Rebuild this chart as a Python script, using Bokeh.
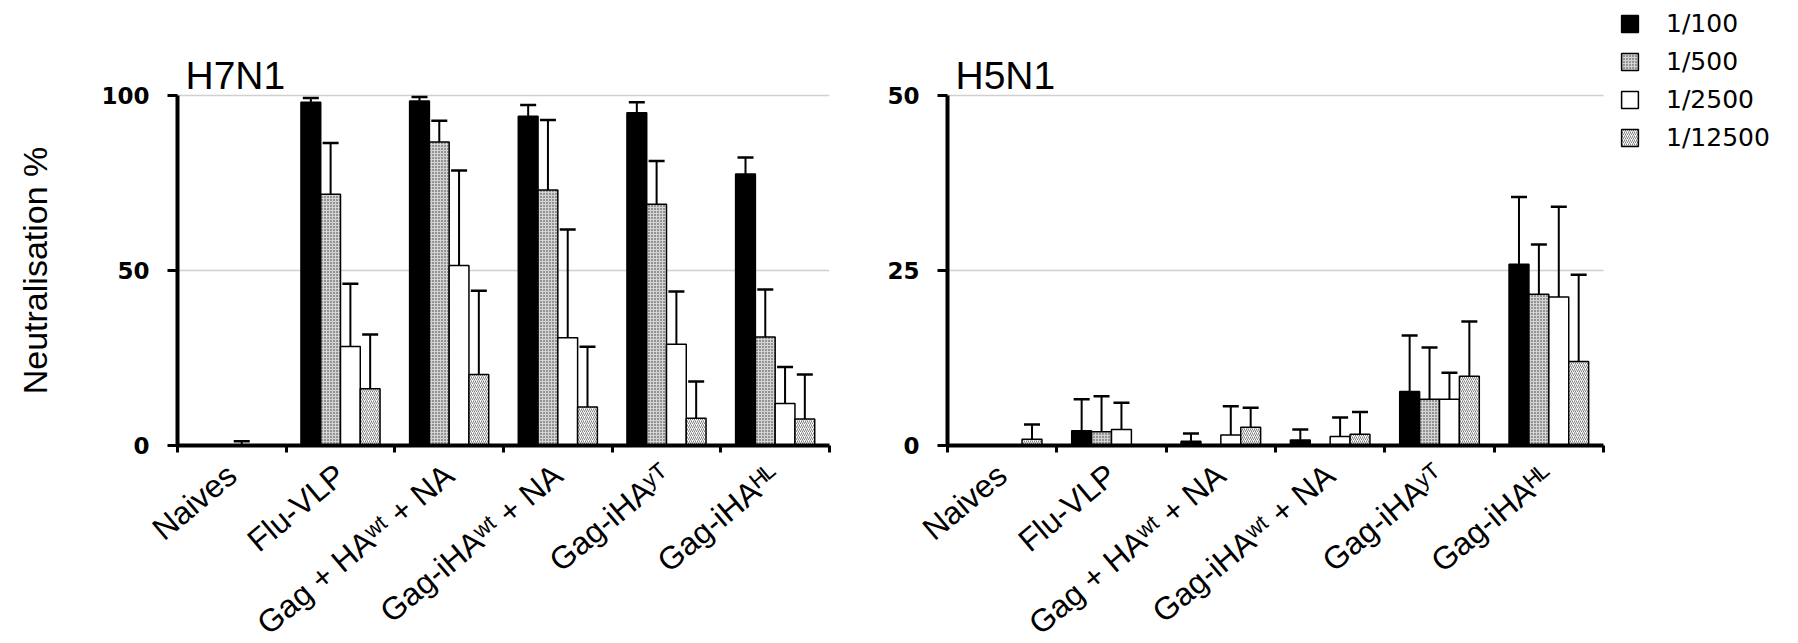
import math
from bokeh.plotting import figure
from bokeh.models import (ColumnDataSource, Range1d, FixedTicker, Whisker, TeeHead,
                          Legend, LegendItem, Label)
from bokeh.layouts import row
from bokeh.transform import dodge
from bokeh.embed import file_html
from bokeh.resources import INLINE

# ---------------- data ----------------
categories = ["Naives", "Flu-VLP", "Gag + HAʷᵗ + NA", "Gag-iHAʷᵗ + NA", "Gag-iHAʸᵀ", "Gag-iHAᴴᴸ"]
dilutions = ["1/100", "1/500", "1/2500", "1/12500"]

# H7N1 neutralisation % (mean) and error (upper bar length)
h7_1_100 = [0, 98.1, 98.4, 94.1, 95.1, 77.6]
h7_1_500 = [0, 71.8, 86.7, 73.0, 68.9, 31.0]
h7_1_2500 = [0, 28.3, 51.4, 30.8, 28.9, 12.0]
h7_1_12500 = [0, 16.2, 20.3, 11.0, 7.8, 7.6]
h7_err_100 = [0, 1.2, 1.2, 3.2, 3.0, 4.7]
h7_err_500 = [0, 14.6, 6.1, 20.0, 12.4, 13.6]
h7_err_2500 = [1.2, 17.9, 27.2, 30.9, 15.1, 10.4]
h7_err_12500 = [0, 15.5, 23.9, 17.2, 10.5, 12.7]

# H5N1
h5_1_100 = [0, 2.1, 0.6, 0.8, 7.7, 25.9]
h5_1_500 = [0, 1.95, 0, 0, 6.6, 21.6]
h5_1_2500 = [0, 2.3, 1.5, 1.3, 6.6, 21.2]
h5_1_12500 = [0.9, 0, 2.6, 1.6, 9.9, 12.0]
h5_err_100 = [0, 4.5, 1.1, 1.5, 8.0, 9.6]
h5_err_500 = [0, 5.1, 0, 0, 7.4, 7.1]
h5_err_2500 = [0, 3.8, 4.1, 2.7, 3.8, 12.9]
h5_err_12500 = [2.1, 0, 2.8, 3.2, 7.8, 12.4]

h7_ticks = [0, 50, 100]
h5_ticks = [0, 25, 50]

# ---------------- styling ----------------
offsets = [-0.273, -0.091, 0.091, 0.273]
BAR_W = 0.182
styles = [
    dict(fill_color="black"),
    dict(fill_color="#d4d4d4", hatch_pattern=".", hatch_scale=3, hatch_weight=1.5,
         hatch_color="#303030"),
    dict(fill_color="white"),
    dict(fill_color="white", hatch_pattern="/", hatch_scale=4, hatch_weight=0.8,
         hatch_color="#606060"),
]
LABEL_FONT = "Liberation Sans"
TICK_FONT = "DejaVu Sans"
AXIS_PX = 350          # pixel height of the 0..max value axis
HEAD_PX = 95           # frame room above the axis top (titles, legend)
FRAME_H = AXIS_PX + HEAD_PX
BOTTOM = 190
YLAB_W = 68

xc = [i + 0.5 for i in range(len(categories))]
ncat = len(categories)


def base_fig(frame_w, x_end, y_end, bl, br):
    p = figure(x_range=Range1d(0, x_end), y_range=Range1d(0, y_end),
               frame_width=frame_w, frame_height=FRAME_H,
               min_border_left=bl, min_border_right=br, min_border_top=0,
               min_border_bottom=BOTTOM, output_backend="svg", toolbar_location=None)
    p.outline_line_color = None
    p.background_fill_color = "white"
    p.border_fill_color = "white"
    return p


def style_axes(p, ticks):
    ymax = ticks[-1]
    p.xgrid.visible = False
    g = p.ygrid[0]
    g.ticker = FixedTicker(ticks=ticks)
    g.grid_line_color = "#d0d0d0"
    g.grid_line_width = 1.5
    g.cross_bounds = (0, ncat)

    ya = p.yaxis[0]
    ya.ticker = FixedTicker(ticks=ticks)
    ya.bounds = (0, ymax)
    ya.axis_line_width = 4
    ya.axis_line_color = "black"
    ya.major_tick_out = 10
    ya.major_tick_in = 0
    ya.major_tick_line_width = 3
    ya.minor_tick_out = 0
    ya.minor_tick_in = 0
    ya.major_label_standoff = 18
    ya.major_label_text_font = TICK_FONT
    ya.major_label_text_font_style = "bold"
    ya.major_label_text_font_size = "23px"
    ya.major_label_text_color = "black"

    xa = p.xaxis[0]
    xa.ticker = FixedTicker(ticks=xc, minor_ticks=list(range(ncat + 1)))
    xa.bounds = (0, ncat)
    xa.major_label_overrides = {x: c for x, c in zip(xc, categories)}
    xa.axis_line_width = 4
    xa.axis_line_color = "black"
    xa.major_tick_out = 0
    xa.major_tick_in = 0
    xa.minor_tick_out = 7
    xa.minor_tick_in = 0
    xa.minor_tick_line_width = 3
    xa.major_label_orientation = math.radians(40)
    xa.major_label_standoff = 18
    xa.major_label_text_font = LABEL_FONT
    xa.major_label_text_font_size = "32px"
    xa.major_label_text_color = "black"


def draw_bars(p, means, errs):
    rs = []
    for k in range(len(dilutions)):
        src = ColumnDataSource(dict(xc=xc, val=means[k]))
        r = p.vbar(x=dodge("xc", offsets[k], range=p.x_range), top="val", width=BAR_W,
                   source=src, line_color="black", line_width=1.5, **styles[k])
        rs.append(r)
        keep = [i for i in range(ncat) if errs[k][i] > 0]
        wsrc = ColumnDataSource(dict(
            xc=[xc[i] for i in keep],
            val=[means[k][i] for i in keep],
            up=[means[k][i] + errs[k][i] for i in keep]))
        p.add_layout(Whisker(source=wsrc, base=dodge("xc", offsets[k], range=p.x_range),
                             lower="val", upper="up", line_color="black", line_width=2,
                             upper_head=TeeHead(size=16, line_width=2.5, line_color="black"),
                             lower_head=None, level="annotation"))
    return rs


def panel_title(p, text, ymax):
    p.add_layout(Label(x=0, y=ymax, x_offset=8, y_offset=-1, text=text,
                       text_font=LABEL_FONT, text_font_size="39px", text_color="black",
                       text_baseline="bottom"))


h7_yend = h7_ticks[-1] * FRAME_H / AXIS_PX
h5_yend = h5_ticks[-1] * FRAME_H / AXIS_PX

# ---- y axis title strip ----
p0 = figure(x_range=Range1d(0, 1), y_range=Range1d(0, h7_yend),
            frame_width=YLAB_W, frame_height=FRAME_H,
            min_border_left=0, min_border_right=0, min_border_top=0, min_border_bottom=BOTTOM,
            x_axis_type=None, y_axis_type=None, output_backend="svg", toolbar_location=None)
p0.outline_line_color = None
p0.border_fill_color = "white"
p0.add_layout(Label(x=0.5, y=h7_ticks[-1] / 2, angle=math.pi / 2, text="Neutralisation %",
                    text_align="center", text_baseline="middle", text_font=LABEL_FONT,
                    text_font_size="34px", text_color="black"))

# ---- left panel: H7N1 ----
p1 = base_fig(652, ncat, h7_yend, 177 - YLAB_W, 20)
style_axes(p1, h7_ticks)
draw_bars(p1, [h7_1_100, h7_1_500, h7_1_2500, h7_1_12500],
          [h7_err_100, h7_err_500, h7_err_2500, h7_err_12500])
panel_title(p1, "H7N1", h7_ticks[-1])

# ---- right panel: H5N1 (frame widened to the right to hold the legend) ----
AXIS_W2 = 656
FRAME_W2 = 843
p2 = base_fig(FRAME_W2, ncat * FRAME_W2 / AXIS_W2, h5_yend, 98, 0)
style_axes(p2, h5_ticks)
rr = draw_bars(p2, [h5_1_100, h5_1_500, h5_1_2500, h5_1_12500],
               [h5_err_100, h5_err_500, h5_err_2500, h5_err_12500])
panel_title(p2, "H5N1", h5_ticks[-1])

legend = Legend(items=[LegendItem(label=d, renderers=[r]) for d, r in zip(dilutions, rr)],
                location=(672, 293), glyph_width=21, glyph_height=21, label_standoff=26,
                spacing=9, padding=0, margin=0, border_line_alpha=0, background_fill_alpha=0,
                label_text_font=TICK_FONT, label_text_font_size="25px", label_text_color="black")
p2.add_layout(legend)

layout = row(p0, p1, p2)
open("out.html", "w").write(file_html(layout, INLINE))
